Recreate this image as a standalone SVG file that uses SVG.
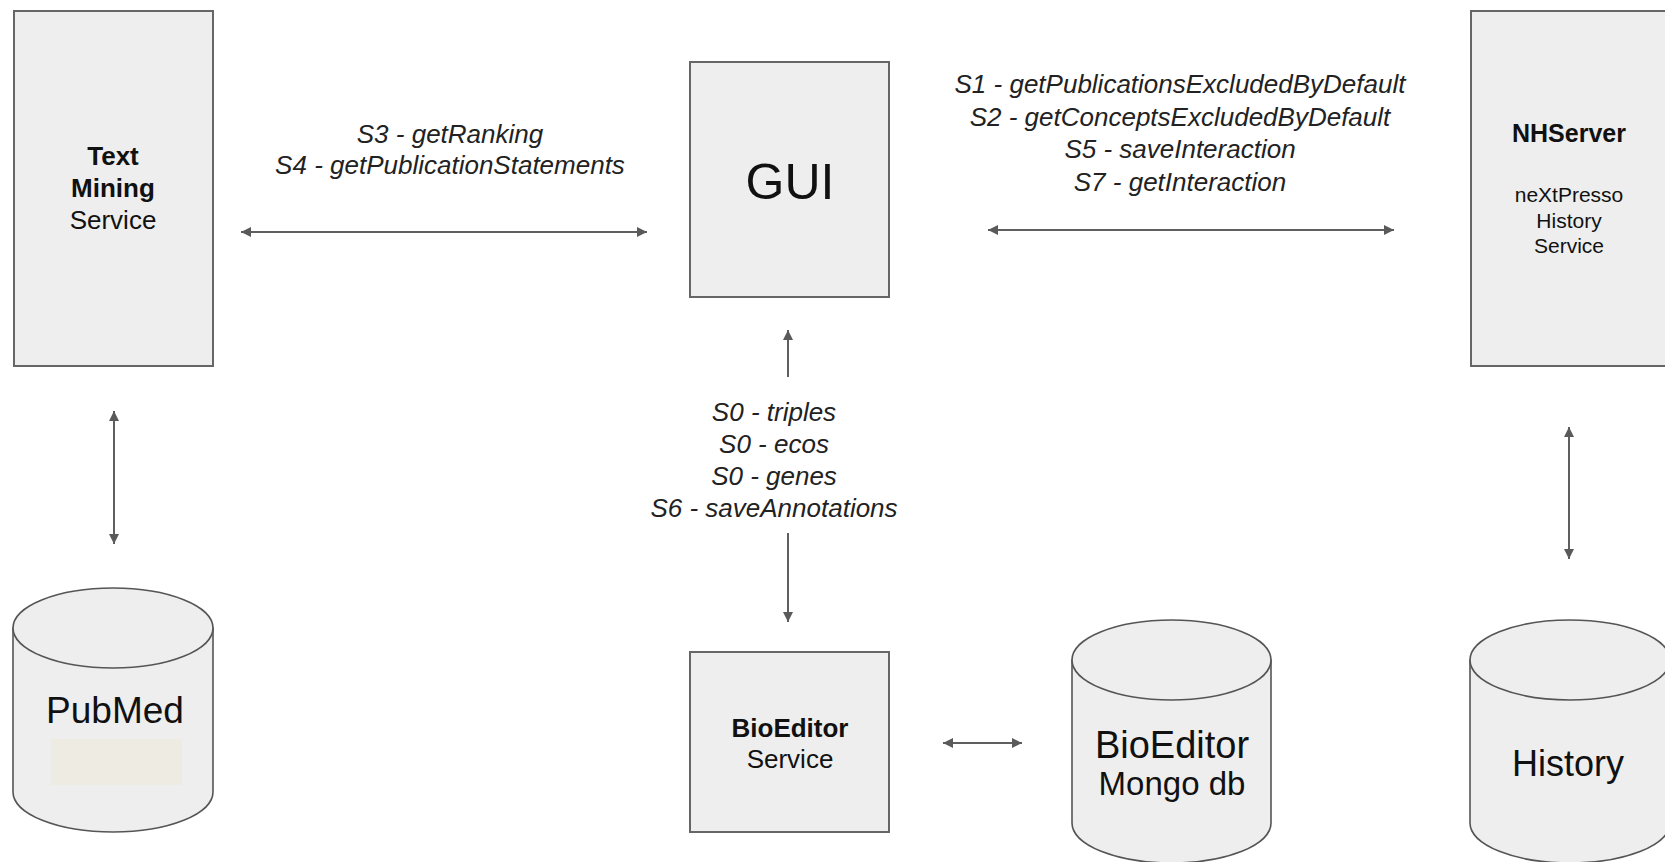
<svg xmlns="http://www.w3.org/2000/svg" width="1665" height="862" viewBox="0 0 1665 862">
  <style>
    .box { fill: #eeeeee; stroke: #666666; stroke-width: 2; }
    .cyl { fill: #eeeeee; stroke: #555555; stroke-width: 1.6; }
    .t { font-family: "Liberation Sans", Arial, sans-serif; fill: #111111; text-anchor: middle; }
    .b { font-weight: bold; }
    .lbl { font-family: "Liberation Sans", Arial, sans-serif; font-style: italic; font-size: 26px; fill: #222222; text-anchor: middle; }
    .conn { stroke: #5f5f5f; stroke-width: 2; fill: none; }
  </style>
  <defs>
    <marker id="head" viewBox="0 0 10 10" refX="10" refY="5" markerWidth="10" markerHeight="10" markerUnits="userSpaceOnUse" orient="auto-start-reverse">
      <path d="M0,0 L10,5 L0,10 Z" fill="#5a5a5a"/>
    </marker>
  </defs>
  <rect width="1665" height="862" fill="#ffffff"/>

  <!-- Text Mining Service -->
  <g id="text-mining">
    <rect class="box" x="14" y="11" width="199" height="355"/>
    <text class="t b" x="113" y="165" font-size="26">Text</text>
    <text class="t b" x="113" y="197" font-size="26">Mining</text>
    <text class="t" x="113" y="229" font-size="26">Service</text>
  </g>

  <!-- GUI -->
  <g id="gui">
    <rect class="box" x="690" y="62" width="199" height="235"/>
    <text class="t" x="790" y="199" font-size="50">GUI</text>
  </g>

  <!-- NHServer -->
  <g id="nhserver">
    <rect class="box" x="1471" y="11" width="200" height="355"/>
    <text class="t b" x="1569" y="142" font-size="25">NHServer</text>
    <text class="t" x="1569" y="202" font-size="21">neXtPresso</text>
    <text class="t" x="1569" y="228" font-size="21">History</text>
    <text class="t" x="1569" y="253" font-size="21">Service</text>
  </g>

  <!-- BioEditor Service -->
  <g id="bioeditor-service">
    <rect class="box" x="690" y="652" width="199" height="180"/>
    <text class="t b" x="790" y="737" font-size="26">BioEditor</text>
    <text class="t" x="790" y="768" font-size="26">Service</text>
  </g>

  <!-- PubMed database -->
  <g id="pubmed">
    <path class="cyl" d="M13,628 L13,792 A100,40 0 0 0 213,792 L213,628 Z"/>
    <ellipse class="cyl" cx="113" cy="628" rx="100" ry="40"/>
    <text class="t" x="115" y="723" font-size="37">PubMed</text>
    <rect x="51" y="739" width="131" height="46" fill="#eeebe3"/>
  </g>

  <!-- BioEditor Mongo database -->
  <g id="bioeditor-db">
    <path class="cyl" d="M1072,660 L1072,823 A99.5,40 0 0 0 1271,823 L1271,660 Z"/>
    <ellipse class="cyl" cx="1171.5" cy="660" rx="99.5" ry="40"/>
    <text class="t" x="1172" y="758" font-size="38">BioEditor</text>
    <text class="t" x="1172" y="795" font-size="33">Mongo db</text>
  </g>

  <!-- History database -->
  <g id="history-db">
    <path class="cyl" d="M1470,660 L1470,823 A100,40 0 0 0 1670,823 L1670,660 Z"/>
    <ellipse class="cyl" cx="1570" cy="660" rx="100" ry="40"/>
    <text class="t" x="1568" y="776" font-size="36">History</text>
  </g>

  <!-- Connectors -->
  <g id="connectors">
    <line class="conn" x1="241" y1="232" x2="647" y2="232" marker-start="url(#head)" marker-end="url(#head)"/>
    <line class="conn" x1="988" y1="230" x2="1394" y2="230" marker-start="url(#head)" marker-end="url(#head)"/>
    <line class="conn" x1="114" y1="411" x2="114" y2="544" marker-start="url(#head)" marker-end="url(#head)"/>
    <line class="conn" x1="1569" y1="427" x2="1569" y2="559" marker-start="url(#head)" marker-end="url(#head)"/>
    <line class="conn" x1="788" y1="377" x2="788" y2="330" marker-end="url(#head)"/>
    <line class="conn" x1="788" y1="533" x2="788" y2="622" marker-end="url(#head)"/>
    <line class="conn" x1="943" y1="743" x2="1022" y2="743" marker-start="url(#head)" marker-end="url(#head)"/>
  </g>

  <!-- Connector labels -->
  <g id="labels">
    <text class="lbl" x="450" y="143">S3 - getRanking</text>
    <text class="lbl" x="450" y="174">S4 - getPublicationStatements</text>
    <text class="lbl" x="1180" y="93">S1 - getPublicationsExcludedByDefault</text>
    <text class="lbl" x="1180" y="125.5">S2 - getConceptsExcludedByDefault</text>
    <text class="lbl" x="1180" y="158">S5 - saveInteraction</text>
    <text class="lbl" x="1180" y="190.5">S7 - getInteraction</text>
    <text class="lbl" x="774" y="421">S0 - triples</text>
    <text class="lbl" x="774" y="453">S0 - ecos</text>
    <text class="lbl" x="774" y="485">S0 - genes</text>
    <text class="lbl" x="774" y="517">S6 - saveAnnotations</text>
  </g>
</svg>
